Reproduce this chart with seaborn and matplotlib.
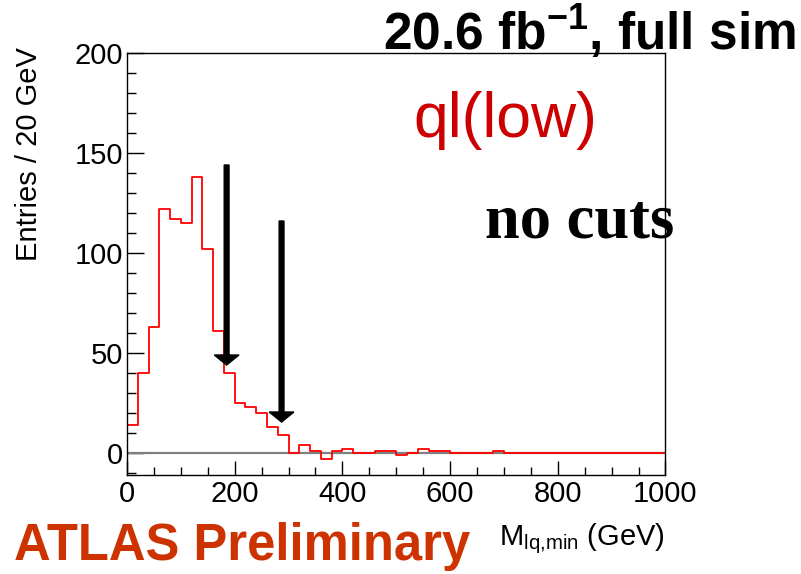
import numpy as np
import pandas as pd
import matplotlib
matplotlib.use("Agg")
import matplotlib.pyplot as plt
import seaborn as sns
from matplotlib.ticker import MultipleLocator

# ---------------- data ----------------
bin_width = 20
x_min, x_max = 0, 1000
counts = [14, 40, 63, 122, 117, 115, 138, 102, 61, 40,
          25, 23, 20, 13, 9, 0, 4, 1, -3, 1,
          2, 0, 0, 1, 1, -1, 0, 2, 1, 1,
          0, 0, 0, 0, 1, 0, 0, 0, 0, 0,
          0, 0, 0, 0, 0, 0, 0, 0, 0, 0]
arrow_x = [185, 287]
arrow_top = [144, 116]
arrow_tip = [44, 15.5]
x_ticks = [0, 200, 400, 600, 800, 1000]
y_ticks = [0, 50, 100, 150, 200]

bin_edges = np.arange(x_min, x_max + bin_width, bin_width)
centers = bin_edges[:-1] + bin_width / 2
df = pd.DataFrame({"m": centers, "n": counts})

# ---------------- style ----------------
sns.set_style("white")
plt.rcParams["font.family"] = ["Liberation Sans", "DejaVu Sans"]
plt.rcParams["mathtext.fontset"] = "custom"
plt.rcParams["mathtext.rm"] = "Liberation Sans"
plt.rcParams["mathtext.it"] = "Liberation Sans:italic"
plt.rcParams["mathtext.bf"] = "Liberation Sans:bold"

W, H = 801, 574
fig = plt.figure(figsize=(W / 100, H / 100), dpi=100)
fig.patch.set_facecolor("white")
L, R, T, B = 127, 665.5, 53, 474.5
ax = fig.add_axes([L / W, 1 - B / H, (R - L) / W, (B - T) / H])
ax.set_facecolor("white")

ax.axhline(0, color="#808080", lw=1.6, zorder=1)
sns.histplot(data=df, x="m", weights="n", binwidth=bin_width,
             binrange=(x_min, x_max), element="step",
             fill=False, color="#ff0000", linewidth=1.3, ax=ax, zorder=2)

for xa, yt, yb in zip(arrow_x, arrow_top, arrow_tip):
    ax.arrow(xa, yt, 0, yb - yt, width=9, head_width=46, head_length=5,
             length_includes_head=True, color="black", zorder=4)

ax.set_xlim(x_min, x_max)
ax.set_ylim(-10.75, 200)
ax.set_xlabel("")
ax.set_ylabel("")
ax.set_xticks(x_ticks)
ax.set_yticks(y_ticks)
ax.xaxis.set_minor_locator(MultipleLocator(50))
ax.yaxis.set_minor_locator(MultipleLocator(10))
ax.tick_params(axis="both", which="both", direction="in", colors="black",
               labelsize=21, width=1, top=False, right=False,
               bottom=True, left=True)
ax.tick_params(axis="x", which="major", length=10, pad=4)
ax.tick_params(axis="x", which="minor", length=5.8)
ax.tick_params(axis="y", which="major", length=12, pad=3)
ax.tick_params(axis="y", which="minor", length=6.5)
for s in ax.spines.values():
    s.set_visible(True)
    s.set_color("black")
    s.set_linewidth(1.0)

def px(x, y):
    return x / W, 1 - y / H

fig.text(*px(383, 50), r"20.6 fb$^{\mathbf{-1}}$, full sim", fontsize=37,
         fontweight="bold", color="black", ha="left", va="baseline")
fig.text(*px(413, 137), "ql(low)", fontsize=45, color="#cc0000",
         ha="left", va="baseline")
fig.text(*px(485, 237), "no cuts", fontsize=45, fontweight="bold",
         family=["Liberation Serif", "DejaVu Serif"], color="black",
         ha="left", va="baseline")
fig.text(*px(29, 154), "Entries / 20 GeV", fontsize=21, rotation=90,
         ha="center", va="center", color="black")
fig.text(*px(665, 545), r"M$_{\mathrm{lq{,}min}}$ (GeV)", fontsize=21,
         ha="right", va="baseline", color="black")
fig.text(*px(14, 560), "ATLAS Preliminary", fontsize=36.5, fontweight="bold",
         color="#cc3300", ha="left", va="baseline")

fig.savefig("out.png", dpi=100, facecolor="white")
